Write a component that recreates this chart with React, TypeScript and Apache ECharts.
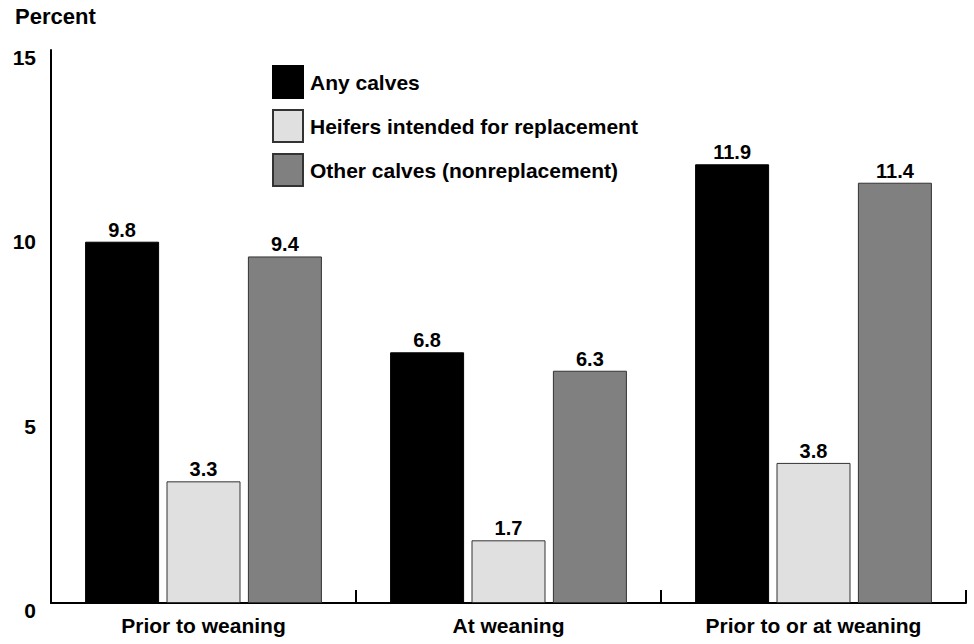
import React, { useEffect, useRef } from "react";
import * as echarts from "echarts";

const categories = ["Prior to weaning", "At weaning", "Prior to or at weaning"];
const seriesNames = ["Any calves", "Heifers intended for replacement", "Other calves (nonreplacement)"];
const anyCalves = [9.8, 6.8, 11.9];
const heifers = [3.3, 1.7, 3.8];
const otherCalves = [9.4, 6.3, 11.4];
const yTicks = [0, 5, 10, 15];

const FONT = "Liberation Sans, Arial, Helvetica, sans-serif";
const colors = ["#000000", "#e0e0e0", "#808080"];
const values = [anyCalves, heifers, otherCalves];

export default function App() {
  const ref = useRef<HTMLDivElement>(null);
  useEffect(() => {
    if (!ref.current) return;
    const chart = echarts.init(ref.current, undefined, { renderer: "svg" });
    chart.setOption({
      animation: false,
      backgroundColor: "#ffffff",
      textStyle: { fontFamily: FONT, color: "#000" },
      title: {
        text: "Percent",
        left: 10,
        top: 0,
        textStyle: { fontFamily: FONT, fontSize: 22, fontWeight: "bold", color: "#000" },
      },
      legend: {
        orient: "vertical",
        left: 267,
        top: 60,
        itemWidth: 30,
        itemHeight: 32,
        itemGap: 10,
        icon: "rect",
        selectedMode: false,
        textStyle: { fontFamily: FONT, fontSize: 21, fontWeight: "bold", color: "#000", padding: [0, 0, 0, 2] },
        data: seriesNames,
      },
      grid: { left: 51, right: 8, top: 50, bottom: 41, containLabel: false },
      xAxis: {
        type: "category",
        data: categories,
        axisLine: { show: true, lineStyle: { color: "#000", width: 2 } },
        axisTick: { show: true, inside: true, length: 13, lineStyle: { color: "#000", width: 2 } },
        axisLabel: { fontFamily: FONT, fontSize: 21, fontWeight: "bold", color: "#000", margin: 12 },
        splitLine: { show: false },
      },
      yAxis: {
        type: "value",
        min: yTicks[0],
        max: yTicks[yTicks.length - 1],
        interval: 5,
        axisLine: { show: true, lineStyle: { color: "#000", width: 2 } },
        axisTick: { show: false },
        splitLine: { show: false },
        axisLabel: {
          fontFamily: FONT,
          fontSize: 21,
          fontWeight: "bold",
          color: "#000",
          margin: 15,
          verticalAlign: "top",
          lineHeight: 15,
        },
      },
      series: seriesNames.map((name, i) => ({
        name,
        type: "bar",
        data: values[i],
        barWidth: 74,
        barGap: "10%",
        itemStyle: {
          color: colors[i],
          borderColor: i === 0 ? "#000" : "#333",
          borderWidth: 1,
        },
        label: {
          show: true,
          position: "top",
          distance: 2,
          fontFamily: FONT,
          fontSize: 20,
          fontWeight: "bold",
          color: "#000",
          formatter: (p: any) => Number(p.value).toFixed(1),
        },
      })),
    });
    return () => chart.dispose();
  }, []);
  return <div ref={ref} style={{ width: 974, height: 644, position: "fixed", left: 0, top: 0 }} />;
}
